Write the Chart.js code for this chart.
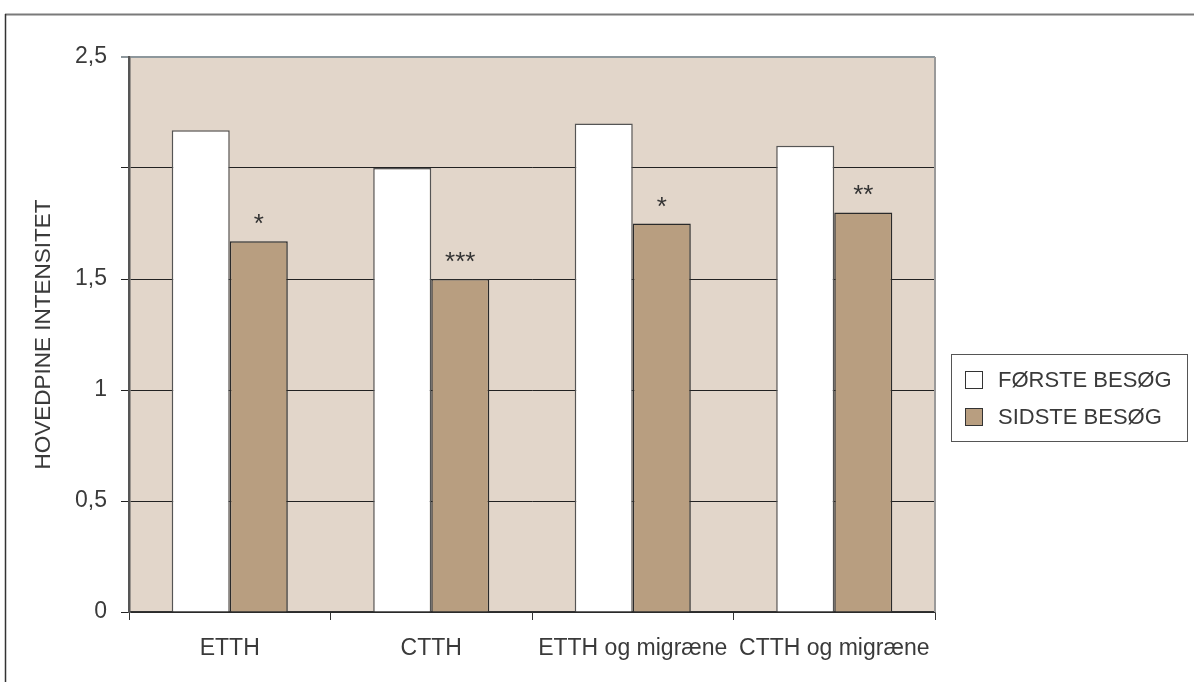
<!DOCTYPE html>
<html>
<head>
<meta charset="utf-8">
<script src="https://cdn.jsdelivr.net/npm/chart.js@4.4.0/dist/chart.umd.min.js"></script>
<style>
  html, body { margin: 0; padding: 0; background: #fff; }
  #wrap { width: 1194px; height: 682px; }
</style>
</head>
<body>
<div id="wrap"><canvas id="hovedpineChart" width="1194" height="682"></canvas></div>
<script>
var categories = ['ETTH', 'CTTH', 'ETTH og migræne', 'CTTH og migræne'];
var seriesNames = ['FØRSTE BESØG', 'SIDSTE BESØG'];
var foersteBesoeg = [2.17, 2.0, 2.2, 2.1];
var sidsteBesoeg = [1.67, 1.5, 1.75, 1.8];
var signifikans = ['*', '***', '*', '**'];
var yTicks = { '0': '0', '0.5': '0,5', '1': '1', '1.5': '1,5', '2': '', '2.5': '2,5' };

var fontFam = '"Liberation Sans", Arial, sans-serif';
var txtColor = '#3a3a3a';

// baggrund og ramme om plotomraadet
var plotBg = {
    id: 'plotBg',
    beforeDraw: function (chart) {
        var c = chart.ctx, a = chart.chartArea;
        c.save();
        c.fillStyle = '#e2d6ca';
        c.fillRect(a.left, a.top, a.right - a.left, a.bottom - a.top);
        // ydre ramme
        c.strokeStyle = '#7a7a7a';
        c.lineWidth = 2;
        c.beginPath();
        c.moveTo(5, 14.5);
        c.lineTo(1194, 14.5);
        c.stroke();
        c.strokeStyle = '#333';
        c.lineWidth = 1.5;
        c.beginPath();
        c.moveTo(5.5, 14);
        c.lineTo(5.5, 682);
        c.stroke();
        c.restore();
    },
    afterDraw: function (chart) {
        var c = chart.ctx, a = chart.chartArea;
        c.save();
        c.strokeStyle = '#9a9a9a';
        c.lineWidth = 2;
        c.beginPath();
        c.moveTo(a.right, a.top);
        c.lineTo(a.right, a.bottom);
        c.stroke();
        c.restore();
    }
};

// stjerner over sidste besoeg
var stjerner = {
    id: 'stjerner',
    afterDatasetsDraw: function (chart) {
        var c = chart.ctx;
        var meta = chart.getDatasetMeta(1);
        c.save();
        c.fillStyle = '#333';
        c.font = '26px ' + fontFam;
        c.textAlign = 'center';
        c.textBaseline = 'alphabetic';
        meta.data.forEach(function (bar, i) {
            c.fillText(signifikans[i], bar.x, bar.y - 9);
        });
        c.restore();
    }
};

// forklaring med ramme
var forklaring = {
    id: 'forklaring',
    afterDraw: function (chart) {
        var c = chart.ctx;
        c.save();
        c.strokeStyle = '#555';
        c.lineWidth = 1;
        c.strokeRect(951.5, 354.5, 236, 87);
        c.font = '22px ' + fontFam;
        c.textBaseline = 'middle';
        c.textAlign = 'left';
        chart.data.datasets.forEach(function (ds, i) {
            var y = 371 + i * 37;
            c.fillStyle = ds.backgroundColor;
            c.fillRect(965, y, 18, 18);
            c.strokeStyle = '#333';
            c.strokeRect(965.5, y + 0.5, 17, 17);
            c.fillStyle = txtColor;
            c.fillText(ds.label, 998, y + 10);
        });
        c.restore();
    }
};

var ctx = document.getElementById('hovedpineChart');
var myChart = new Chart(ctx, {
    type: 'bar',
    data: {
        labels: categories,
        datasets: [{
            label: seriesNames[0],
            data: foersteBesoeg,
            backgroundColor: '#ffffff',
            borderColor: '#555555',
            borderWidth: 1.5
        }, {
            label: seriesNames[1],
            data: sidsteBesoeg,
            backgroundColor: '#b89e80',
            borderColor: '#2a2a2a',
            borderWidth: 1.5
        }]
    },
    options: {
        responsive: false,
        animation: false,
        layout: { padding: { left: 0, right: 259, top: 57, bottom: 0 } },
        datasets: { bar: { categoryPercentage: 0.576, barPercentage: 1.0 } },
        plugins: {
            legend: { display: false },
            tooltip: { enabled: false }
        },
        scales: {
            x: {
                grid: {
                    offset: true,
                    drawOnChartArea: false,
                    tickLength: 8,
                    color: '#333'
                },
                border: { color: '#333', width: 1.5 },
                ticks: {
                    color: txtColor,
                    font: { family: fontFam, size: 23 },
                    padding: 15,
                    maxRotation: 0
                },
                afterFit: function (s) { s.height = 70; }
            },
            y: {
                min: 0,
                max: 2.5,
                grid: {
                    color: function (c) { return c.tick && c.tick.value === 2.5 ? '#8d979c' : '#222'; },
                    lineWidth: function (c) { return c.tick && c.tick.value === 2.5 ? 2 : 1; },
                    tickLength: 8
                },
                border: { color: '#555', width: 2.5 },
                ticks: {
                    stepSize: 0.5,
                    color: txtColor,
                    font: { family: fontFam, size: 23 },
                    padding: 14,
                    callback: function (v) { return yTicks[String(v)]; }
                },
                title: {
                    display: true,
                    text: 'HOVEDPINE INTENSITET',
                    color: txtColor,
                    font: { family: fontFam, size: 22.5 },
                    padding: { top: 30, bottom: 0 }
                },
                afterFit: function (s) { s.width = 129; }
            }
        }
    },
    plugins: [plotBg, stjerner, forklaring]
});
</script>
</body>
</html>
